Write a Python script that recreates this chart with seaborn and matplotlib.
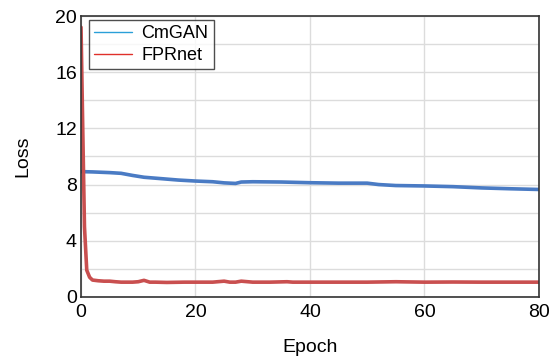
import matplotlib
matplotlib.use("Agg")
import matplotlib.pyplot as plt
import pandas as pd
import seaborn as sns
from matplotlib.lines import Line2D

# values
cmgan_epoch = [0, 2, 5, 7, 9, 11, 14, 17, 20, 23, 25, 27, 28, 30, 35, 40, 45, 50, 52, 55, 60, 65, 70, 75, 80]
cmgan_loss = [8.92, 8.9, 8.85, 8.8, 8.65, 8.52, 8.42, 8.32, 8.25, 8.2, 8.12, 8.08, 8.18, 8.2, 8.18, 8.13, 8.1, 8.1, 8.0, 7.93, 7.9, 7.85, 7.76, 7.7, 7.65]

fpr_epoch = [0, 0.3, 0.6, 1, 1.5, 2, 3, 4, 5, 6, 7, 8, 9, 10, 11, 12, 13, 15, 18, 20, 23, 25, 26, 27, 28, 30, 33, 36, 37, 40, 45, 50, 55, 60, 65, 70, 75, 80]
fpr_loss = [19.2, 12.0, 5.0, 1.9, 1.4, 1.2, 1.15, 1.12, 1.12, 1.08, 1.05, 1.05, 1.05, 1.08, 1.18, 1.05, 1.05, 1.03, 1.05, 1.05, 1.05, 1.12, 1.05, 1.05, 1.12, 1.05, 1.05, 1.08, 1.05, 1.05, 1.05, 1.05, 1.08, 1.05, 1.06, 1.05, 1.05, 1.05]

df = pd.concat([
    pd.DataFrame({"Epoch": cmgan_epoch, "Loss": cmgan_loss, "model": "CmGAN"}),
    pd.DataFrame({"Epoch": fpr_epoch, "Loss": fpr_loss, "model": "FPRnet"}),
])

sns.set_style("white")
plt.rcParams["font.family"] = ["Liberation Sans", "DejaVu Sans"]
plt.rcParams["text.color"] = "black"
plt.rcParams["axes.labelcolor"] = "black"

fig = plt.figure(figsize=(5.55, 3.56), dpi=100)
ax = fig.add_axes([0.146, 0.166, 0.825, 0.789])

sns.lineplot(data=df, x="Epoch", y="Loss", hue="model",
             palette={"CmGAN": "#4a7bc4", "FPRnet": "#c94f4f"},
             linewidth=2.6, ax=ax, legend=False)

ax.set_xlim(0, 80)
ax.set_ylim(0, 20)
ax.set_xticks([0, 20, 40, 60, 80])
ax.set_yticks([0, 4, 8, 12, 16, 20])
ax.set_yticks(range(0, 21, 2), minor=True)
ax.grid(True, which="both", axis="y", color="#dcdcdc", linewidth=1)
ax.grid(True, which="major", axis="x", color="#dcdcdc", linewidth=1)
ax.set_axisbelow(True)
ax.tick_params(which="both", length=0, labelsize=14, colors="black")
ax.tick_params(axis="x", pad=5)
ax.tick_params(axis="y", pad=3)
for s in ax.spines.values():
    s.set_color("#333333")
    s.set_linewidth(1.2)

ax.set_xlabel("Epoch", fontsize=14, labelpad=13)
ax.set_ylabel("Loss", fontsize=14, labelpad=17)

handles = [Line2D([], [], color="#2a9fd8", lw=1),
           Line2D([], [], color="#e0302a", lw=1)]
leg = ax.legend(handles, ["CmGAN", "FPRnet"], loc="upper left",
                bbox_to_anchor=(0.017, 0.986), fontsize=13, frameon=True,
                fancybox=False, handlelength=2.1, handletextpad=0.5,
                borderpad=0.3, labelspacing=0.25, borderaxespad=0)
leg.get_frame().set_edgecolor("#222222")
leg.get_frame().set_linewidth(1.0)
for t in leg.get_texts():
    t.set_color("black")

fig.savefig("out.png", dpi=100)
